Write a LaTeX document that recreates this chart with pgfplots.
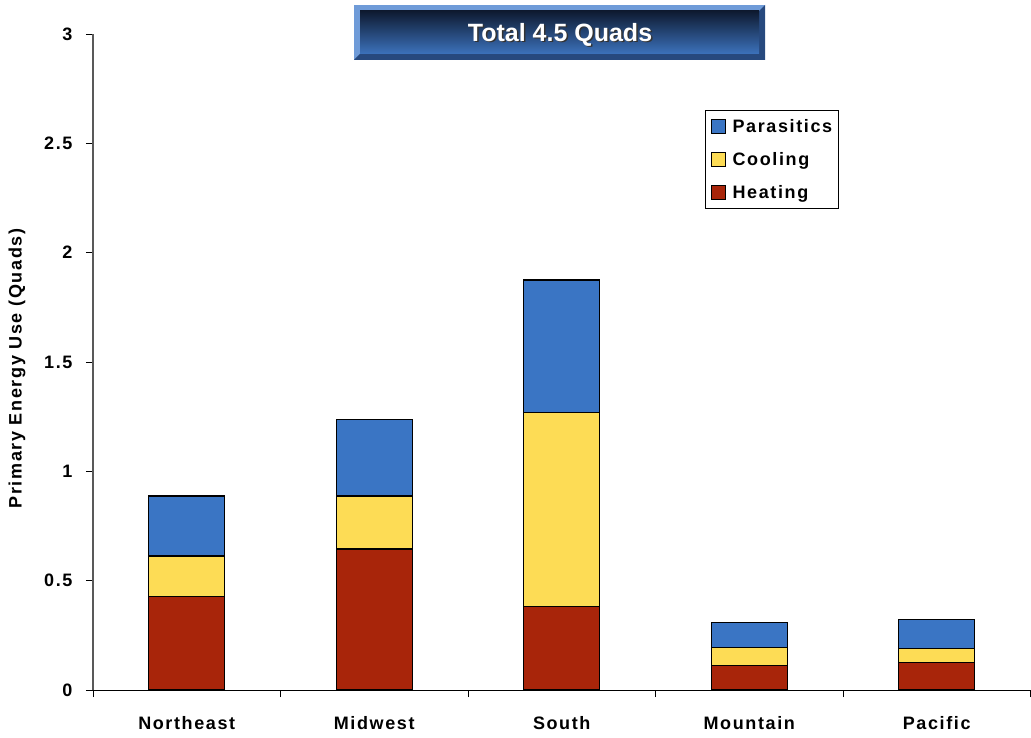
\documentclass[border=0pt]{standalone}
\usepackage{pgfplots}
\pgfplotsset{compat=1.18}
\usepackage{pgfplotstable}
\usepackage{fontspec}
\setmainfont{Liberation Sans}
\newfontfamily\trk[LetterSpace=9]{Liberation Sans}
\newcommand\lab{\fontsize{18}{21}\selectfont\trk\bfseries}
\definecolor{para}{HTML}{3A75C4}
\definecolor{cool}{HTML}{FDDC55}
\definecolor{heat}{HTML}{A8250A}
\definecolor{navy}{HTML}{0E1A30}
\definecolor{boxblue}{HTML}{3C72BC}
\definecolor{bevlight}{HTML}{6F9BD8}
\definecolor{bevdark}{HTML}{27497E}
\pgfplotstableread{
x heat cool para
0 0.427 0.186 0.274
1 0.645 0.242 0.352
2 0.380 0.887 0.608
3 0.110 0.084 0.114
4 0.127 0.062 0.135
}\data
\begin{document}
\begin{tikzpicture}
\useasboundingbox (0pt,0pt) rectangle (1031pt,737pt);
\begin{axis}[
  at={(93pt,47pt)}, anchor=south west,
  scale only axis, width=937.5pt, height=656pt,
  ybar stacked, bar width=76pt,
  xmin=-0.5, xmax=4.5, ymin=0, ymax=3,
  axis x line*=bottom, axis y line*=left,
  x axis line style={-,black,line width=0.9pt},
  y axis line style={-,black!65,line width=1.2pt},
  xtick={0,1,2,3,4},
  xticklabels={Northeast,Midwest,South,Mountain,Pacific},
  minor xtick={-0.5,0.5,1.5,2.5,3.5,4.5},
  major x tick style={draw=none},
  minor x tick style={black,line width=0.9pt},
  minor tick length=7pt,
  ytick={0,0.5,1,1.5,2,2.5,3},
  yticklabels={0,0.5,1,1.5,2,2.5,3},
  major y tick style={black,line width=0.9pt},
  major tick length=7pt,
  tick align=outside,
  ticklabel style={font=\lab},
  xticklabel style={yshift=-16pt},
  yticklabel style={xshift=-10pt},
  ylabel={Primary Energy Use (Quads)},
  ylabel style={font=\lab, at={(axis description cs:-0.081,0.49)}, anchor=center},
  legend style={at={(rel axis cs:0.653,0.884)}, anchor=north west,
    draw=black, line width=0.8pt, font=\lab, inner xsep=3pt, inner ysep=6.5pt,
    row sep=14.5pt, legend cell align=left,
    nodes={inner xsep=3pt}},
  legend image code/.code={\path[draw=none,fill=none] (-3pt,0pt) -- (18pt,0pt);\draw[#1,draw=black,line width=0.8pt] (0pt,-7pt) rectangle (14pt,7pt);},
  reverse legend,
  every axis plot/.append style={draw=black, line width=1.1pt},
]
\addplot[fill=heat] table[x=x,y=heat] {\data};
\addplot[fill=cool] table[x=x,y=cool] {\data};
\addplot[fill=para] table[x=x,y=para] {\data};
\legend{Heating,Cooling,Parasitics}
\end{axis}
% title box
\fill[bevlight] (354pt,677pt) rectangle (765pt,732pt);
\fill[bevdark] (765pt,732pt) -- (765pt,677pt) -- (354pt,677pt) -- (360pt,683pt) -- (759pt,683pt) -- (759pt,726pt) -- cycle;
\shade[top color=navy, bottom color=boxblue] (360pt,683pt) rectangle (759pt,726pt);
\node[text=black!80, font=\fontsize{25}{29}\selectfont\bfseries] at (561.5pt,701pt) {Total 4.5 Quads};
\node[text=white, font=\fontsize{25}{29}\selectfont\bfseries] at (560pt,702.5pt) {Total 4.5 Quads};
\end{tikzpicture}
\end{document}
